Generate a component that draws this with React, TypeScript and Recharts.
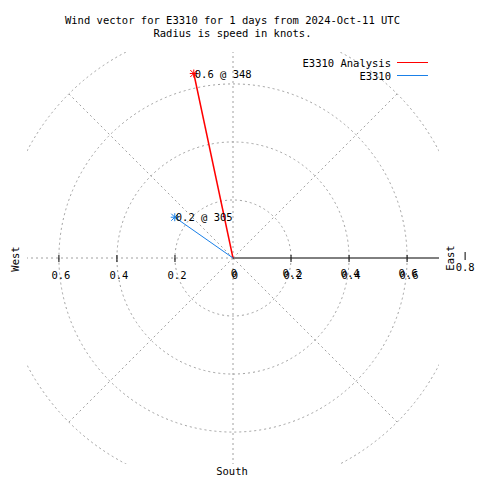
import { ScatterChart, Scatter, XAxis, YAxis, ReferenceDot, ReferenceLine } from 'recharts';

// wind vectors: speed in knots, direction in degrees (from north, clockwise)
const seriesNames = ['E3310 Analysis', 'E3310'];
const speeds = [0.65, 0.245];
const directions = [348, 305];
const colors = ['#ff0000', '#1a80e8'];

const rings = [0.2, 0.4, 0.6, 0.8];
const spokeAngles = [0, 45, 135, 180, 225, 270, 315];
const xTickValues = [-0.6, -0.4, -0.2, 0, 0.2, 0.4, 0.6];
const rTickValues = [0, 0.2, 0.4, 0.6];

const D = 0.71;
const W = 480;
const H = 480;
const margin = { top: 52, right: 41, bottom: 16, left: 27 };
const PX = (W - margin.left - margin.right) / (2 * D);
const FONT = '"DejaVu Sans Mono", monospace';
const GRID = '#a0a0a0';

const toXY = (r: number, deg: number) => {
  const a = (deg * Math.PI) / 180;
  return { x: r * Math.sin(a), y: r * Math.cos(a) };
};

const series = speeds.map((s, i) => {
  const tip = toXY(s, directions[i]);
  return [
    { x: 0, y: 0 },
    { ...tip, tip: true, label: `${Math.floor(s * 10) / 10} @ ${directions[i]}` },
  ];
});

const outerRing = rings[rings.length - 1];

function Star(props: any, color: string) {
  const { cx, cy, payload } = props;
  if (!payload || !payload.tip) return <g />;
  const d = 3.5;
  return (
    <g>
      <g stroke={color} strokeWidth={1}>
        <line x1={cx - d - 0.5} y1={cy} x2={cx + d + 0.5} y2={cy} />
        <line x1={cx} y1={cy - d - 0.5} x2={cx} y2={cy + d + 0.5} />
        <line x1={cx - d} y1={cy - d} x2={cx + d} y2={cy + d} />
        <line x1={cx - d} y1={cy + d} x2={cx + d} y2={cy - d} />
      </g>
      <text x={cx + 1} y={cy + 4} fontFamily={FONT} fontSize={10.5} fill="#000">
        {payload.label}
      </text>
    </g>
  );
}

function XTick(props: any, v: number) {
  const { cx, cy } = props;
  return (
    <g>
      {v !== 0 && <line x1={cx} y1={cy - 3} x2={cx} y2={cy + 4} stroke="#000" />}
      <text x={cx + 2} y={cy + 21} textAnchor="middle" fontFamily={FONT} fontSize={10.5} fill="#000">
        {String(Math.abs(v))}
      </text>
    </g>
  );
}

function RTick(props: any, v: number) {
  const { cx, cy } = props;
  return (
    <text x={cx + 1} y={cy + 19} textAnchor="middle" fontFamily={FONT} fontSize={10.5} fill="#000">
      {String(v)}
    </text>
  );
}

function OuterTick(props: any) {
  const { cx, cy } = props;
  return (
    <g>
      <line x1={cx} y1={cy - 6} x2={cx} y2={cy + 2} stroke="#000" />
      <text x={cx} y={cy + 13} textAnchor="middle" fontFamily={FONT} fontSize={10.5} fill="#000">
        {String(outerRing)}
      </text>
    </g>
  );
}

export default function App() {
  return (
    <div style={{ position: 'absolute', left: 0, top: 0, width: W, height: H, background: '#fff' }}>
      <ScatterChart width={W} height={H} margin={margin}>
        <XAxis type="number" dataKey="x" domain={[-D, D]} allowDataOverflow hide />
        <YAxis type="number" dataKey="y" domain={[-D, D]} allowDataOverflow hide />
        {rings.map((r) => (
          <ReferenceDot
            key={`ring-${r}`}
            x={0}
            y={0}
            r={r * PX}
            fill="none"
            stroke={GRID}
            strokeWidth={1}
            strokeDasharray="2 3"
            ifOverflow="hidden"
          />
        ))}
        {spokeAngles.map((a) => (
          <ReferenceLine
            key={`spoke-${a}`}
            segment={[{ x: 0, y: 0 }, toXY(outerRing, a)]}
            stroke={GRID}
            strokeDasharray="2 3"
            ifOverflow="hidden"
          />
        ))}
        <ReferenceLine segment={[{ x: 0, y: 0 }, { x: D, y: 0 }]} stroke="#000" ifOverflow="visible" />
        {xTickValues.map((v) => (
          <ReferenceDot key={`xt-${v}`} x={v} y={0} r={0} ifOverflow="visible" shape={(p: any) => XTick(p, v)} />
        ))}
        {rTickValues.map((v) => (
          <ReferenceDot key={`rt-${v}`} x={v} y={0} r={0} ifOverflow="visible" shape={(p: any) => RTick(p, v)} />
        ))}
        <ReferenceDot x={outerRing} y={0} r={0} ifOverflow="visible" shape={(p: any) => OuterTick(p)} />
        {series.map((data, i) => (
          <Scatter
            key={seriesNames[i]}
            name={seriesNames[i]}
            data={data}
            fill={colors[i]}
            line={{ stroke: colors[i], strokeWidth: i === 0 ? 1.5 : 1 }}
            shape={(p: any) => Star(p, colors[i])}
            isAnimationActive={false}
          />
        ))}
      </ScatterChart>
      <svg
        width={W}
        height={H}
        style={{ position: 'absolute', left: 0, top: 0, pointerEvents: 'none' }}
        fontFamily={FONT}
        fontSize={10.5}
      >
        <text x={232.5} y={24} textAnchor="middle">Wind vector for E3310 for 1 days from 2024-Oct-11 UTC</text>
        <text x={232.5} y={37} textAnchor="middle">Radius is speed in knots.</text>
        {seriesNames.map((n, i) => (
          <g key={n}>
            <text x={391} y={67 + i * 13} textAnchor="end">{n}</text>
            <line x1={397} y1={62.5 + i * 13} x2={428} y2={62.5 + i * 13} stroke={colors[i]} />
          </g>
        ))}
        <text transform="translate(19,259) rotate(-90)" textAnchor="middle">West</text>
        <text transform="translate(454,258) rotate(-90)" textAnchor="middle">East</text>
        <text x={232} y={475} textAnchor="middle">South</text>
      </svg>
    </div>
  );
}
